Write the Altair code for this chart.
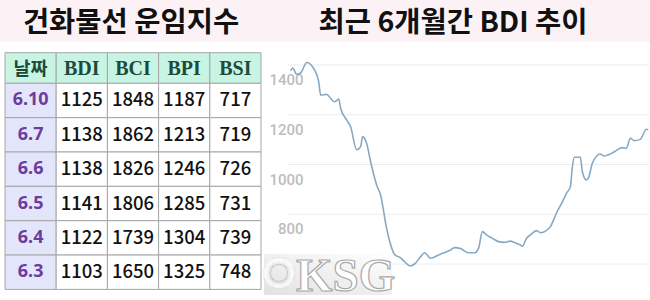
import altair as alt
import pandas as pd

W, H = 650, 300

# ---------------- data ----------------
table_title = "건화물선 운임지수"
chart_title = "최근 6개월간 BDI 추이"

columns = ["날짜", "BDI", "BCI", "BPI", "BSI"]
row_dates = ["6.10", "6.7", "6.6", "6.5", "6.4", "6.3"]
bdi_vals = [1125, 1138, 1138, 1141, 1122, 1103]
bci_vals = [1848, 1862, 1826, 1806, 1739, 1650]
bpi_vals = [1187, 1213, 1246, 1285, 1304, 1325]
bsi_vals = [717, 719, 726, 731, 739, 748]

trend_dates = [
    "2018-12-10", "2018-12-11", "2018-12-13", "2018-12-15", "2018-12-18", "2018-12-21",
    "2018-12-24", "2018-12-25", "2018-12-28", "2018-12-30", "2019-01-01", "2019-01-03",
    "2019-01-04", "2019-01-07", "2019-01-09", "2019-01-12", "2019-01-14", "2019-01-15",
    "2019-01-17", "2019-01-19", "2019-01-22", "2019-01-24", "2019-01-27", "2019-01-29",
    "2019-01-31", "2019-02-03", "2019-02-05", "2019-02-08", "2019-02-10", "2019-02-13",
    "2019-02-15", "2019-02-16", "2019-02-18", "2019-02-22", "2019-02-24", "2019-02-28",
    "2019-03-02", "2019-03-05", "2019-03-09", "2019-03-12", "2019-03-14", "2019-03-16",
    "2019-03-18", "2019-03-21", "2019-03-24", "2019-03-27", "2019-03-30", "2019-04-01",
    "2019-04-04", "2019-04-05", "2019-04-07", "2019-04-09", "2019-04-12", "2019-04-14",
    "2019-04-16", "2019-04-19", "2019-04-22", "2019-04-25", "2019-04-27", "2019-04-29",
    "2019-04-30", "2019-05-01", "2019-05-04", "2019-05-05", "2019-05-07", "2019-05-08",
    "2019-05-10", "2019-05-14", "2019-05-16", "2019-05-19", "2019-05-21", "2019-05-25",
    "2019-05-27", "2019-05-29", "2019-05-31", "2019-06-03", "2019-06-06", "2019-06-07",
]
trend_values = [
    1377, 1388, 1363, 1368, 1410, 1392,
    1333, 1279, 1282, 1266, 1252, 1263,
    1226, 1179, 1152, 1059, 1072, 1112,
    1085, 1011, 918, 877, 744, 678,
    638, 625, 609, 592, 600, 629,
    645, 639, 623, 636, 643, 656,
    666, 662, 645, 645, 663, 730,
    717, 703, 690, 687, 692, 686,
    676, 672, 703, 717, 734, 726,
    730, 750, 804, 850, 884, 911,
    991, 1029, 1029, 971, 938, 945,
    1005, 1042, 1034, 1042, 1051, 1068,
    1065, 1105, 1096, 1101, 1142, 1139,
]

grid_ticks = [600, 800, 1000, 1200, 1400]
label_ticks = [800, 1000, 1200, 1400]
watermark = "KSG"

# ---------------- tables ----------------
series = {"BDI": bdi_vals, "BCI": bci_vals, "BPI": bpi_vals, "BSI": bsi_vals}
cells = []
for i, d in enumerate(row_dates):
    cells.append({"row": d, "col": "날짜", "txt": d})
    for k, vals in series.items():
        cells.append({"row": d, "col": k, "txt": str(vals[i])})
cells_df = pd.DataFrame(cells)
header_df = pd.DataFrame({"col": columns})
trend_df = pd.DataFrame({"date": trend_dates, "value": trend_values})
grid_df = pd.DataFrame({"v": grid_ticks})
label_df = pd.DataFrame({"v": label_ticks})

# ---------------- scales ----------------
col_scale = alt.Scale(domain=columns, range=[5, 261], paddingInner=0, paddingOuter=0)
row_scale = alt.Scale(domain=row_dates, range=[83.3, 289.4], paddingInner=0, paddingOuter=0)
x_scale = alt.Scale(
    domain=[alt.DateTime(year=2018, month=12, date=10, utc=True),
            alt.DateTime(year=2019, month=6, date=7, utc=True)],
    range=[290.7, 648.3],
)
y_scale = alt.Scale(domain=[600, 1400], range=[264, 65])

X_col = alt.X("col:N", scale=col_scale, axis=None)
Y_row = alt.Y("row:N", scale=row_scale, axis=None)

one = pd.DataFrame({"a": [0]})

# top band
band = alt.Chart(one).mark_rect(color="#fcf2f5").encode(
    x=alt.value(0), x2=alt.value(W), y=alt.value(0), y2=alt.value(41.5)
)

title_left = alt.Chart(pd.DataFrame({"t": [table_title]})).mark_text(
    font="Noto Sans CJK KR", fontWeight="bold", fontSize=28.5, color="#111111",
    align="center", baseline="middle"
).encode(x=alt.value(131), y=alt.value(22.5), text="t:N")

title_right = alt.Chart(pd.DataFrame({"t": [chart_title]})).mark_text(
    font="Noto Sans CJK KR", fontWeight="bold", fontSize=28.5, color="#111111",
    align="center", baseline="middle"
).encode(x=alt.value(453), y=alt.value(22.5), text="t:N")

# table
header_rect = alt.Chart(header_df).mark_rect(
    fill="#c8f4e4", stroke="#a6a6a6", strokeWidth=1
).encode(x=X_col, y=alt.value(52.7), y2=alt.value(83.3))

header_text_serif = alt.Chart(header_df).transform_filter(
    alt.datum.col != "날짜"
).mark_text(
    font="Liberation Serif", fontWeight="bold", fontSize=20, color="#1d4a3b",
    baseline="middle"
).encode(x=X_col, y=alt.value(69), text="col:N")

header_text_sans = alt.Chart(header_df).transform_filter(
    alt.datum.col == "날짜"
).mark_text(
    font="Noto Sans CJK KR", fontWeight="bold", fontSize=18.5, color="#1d4a3b",
    baseline="middle"
).encode(x=X_col, y=alt.value(68.5), text="col:N")

body_rect = alt.Chart(cells_df).mark_rect(stroke="#a6a6a6", strokeWidth=1).encode(
    x=X_col, y=Y_row,
    fill=alt.condition(alt.datum.col == "날짜", alt.value("#e3e6fb"), alt.value("#ffffff")),
)

body_text_date = alt.Chart(cells_df).transform_filter(
    alt.datum.col == "날짜"
).mark_text(
    font="Noto Sans", fontWeight="bold", fontSize=18, color="#6c3c9e", baseline="middle"
).encode(x=X_col, y=Y_row, text="txt:N")

body_text_num = alt.Chart(cells_df).transform_filter(
    alt.datum.col != "날짜"
).mark_text(
    font="Noto Sans CJK KR", fontWeight=500, fontSize=18.5, color="#111111", baseline="middle"
).encode(x=X_col, y=Y_row, text="txt:N")

# line chart
grid = alt.Chart(grid_df).mark_rule(color="#ececec", strokeWidth=1).encode(
    y=alt.Y("v:Q", scale=y_scale, axis=None), x=alt.value(288), x2=alt.value(649)
)

labels = alt.Chart(label_df).mark_text(
    font="Roboto", fontWeight=500, fontSize=15, color="#bdbdbd",
    align="right", baseline="middle", dy=15
).encode(
    y=alt.Y("v:Q", scale=y_scale, axis=None), x=alt.value(303.5),
    text=alt.Text("v:Q", format="d"),
)

line = alt.Chart(trend_df).mark_line(
    interpolate="monotone", color="#86a9c5", strokeWidth=1.6
).encode(
    x=alt.X("date:T", scale=x_scale, axis=None),
    y=alt.Y("value:Q", scale=y_scale, axis=None),
)

# watermark
wm_bg = alt.Chart(one).mark_rect(
    opacity=0.9,
    color=alt.LinearGradient(
        gradient="linear", x1=0, y1=1, x2=1, y2=0,
        stops=[alt.GradientStop(color="#dedede", offset=0),
               alt.GradientStop(color="#ffffff", offset=1)],
    ),
).encode(x=alt.value(264), x2=alt.value(392), y=alt.value(254), y2=alt.value(295))

wm_df = pd.DataFrame({"t": [watermark]})
wm_text = alt.Chart(wm_df).mark_text(
    font="Liberation Serif", fontWeight="bold", fontSize=47, color="#ffffff",
    stroke="#a9a9a9", strokeWidth=1.2,
    align="left", baseline="alphabetic"
).encode(x=alt.value(296), y=alt.value(291), text="t:N")

wheel_outer = alt.Chart(one).mark_point(
    shape="circle", size=700, filled=False, color="#ffffff", strokeWidth=4
).encode(x=alt.value(279), y=alt.value(273))
wheel_inner = alt.Chart(one).mark_point(
    shape="circle", size=300, filled=False, color="#bcbcbc", strokeWidth=1.2
).encode(x=alt.value(279), y=alt.value(273))
wheel_spokes = alt.Chart(one).mark_point(
    shape="cross", size=900, filled=False, color="#d2d2d2", strokeWidth=0.8
).encode(x=alt.value(279), y=alt.value(273))

chart = alt.layer(
    band, title_left, title_right,
    header_rect, body_rect, header_text_serif, header_text_sans,
    body_text_date, body_text_num,
    grid, labels, line,
    wm_bg, wheel_spokes, wheel_outer, wheel_inner, wm_text,
).resolve_scale(
    x="independent", y="independent", fill="independent", color="independent"
).properties(
    width=W, height=H, padding=0, autosize=alt.AutoSizeParams(type="none"),
    background="#ffffff",
).configure_view(stroke=None)

chart.save("out.html", embed_options={"renderer": "svg", "actions": False})
